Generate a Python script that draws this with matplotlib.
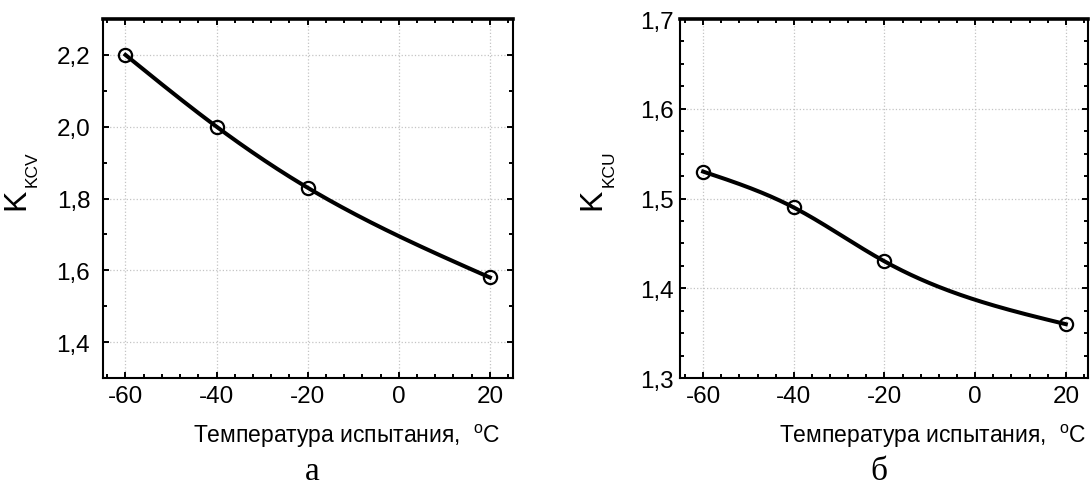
import numpy as np
import matplotlib
matplotlib.use('Agg')
import matplotlib.pyplot as plt
from matplotlib.ticker import MultipleLocator, FixedLocator, FixedFormatter

# data
temps = [-60, -40, -20, 20]
k_kcv = [2.2, 2.0, 1.83, 1.58]
k_kcu = [1.53, 1.49, 1.43, 1.36]

x_ticks = [-60, -40, -20, 0, 20]
x_ticklabels = ['-60', '-40', '-20', '0', '20']
kcv_ticks = [1.4, 1.6, 1.8, 2.0, 2.2]
kcv_ticklabels = ['1,4', '1,6', '1,8', '2,0', '2,2']
kcu_ticks = [1.3, 1.4, 1.5, 1.6, 1.7]
kcu_ticklabels = ['1,3', '1,4', '1,5', '1,6', '1,7']

xlabel = 'Температура испытания,  $^{\\mathregular{o}}$C'

plt.rcParams['font.family'] = ['Liberation Sans', 'DejaVu Sans']
plt.rcParams['mathtext.fontset'] = 'custom'
plt.rcParams['mathtext.rm'] = 'Liberation Sans'


#natural cubic spline through the measured points (only used to draw the smooth line)
def smooth(x, y, n=200):
    x = np.asarray(x, float)
    y = np.asarray(y, float)
    h = np.diff(x)
    m = len(x)
    A = np.zeros((m, m))
    b = np.zeros(m)
    A[0, 0] = 1
    A[-1, -1] = 1
    for i in range(1, m - 1):
        A[i, i - 1] = h[i - 1]
        A[i, i] = 2 * (h[i - 1] + h[i])
        A[i, i + 1] = h[i]
        b[i] = 6 * ((y[i + 1] - y[i]) / h[i] - (y[i] - y[i - 1]) / h[i - 1])
    M = np.linalg.solve(A, b)
    xs = np.linspace(x[0], x[-1], n)
    k = np.clip(np.searchsorted(x, xs) - 1, 0, m - 2)
    t1 = x[k + 1] - xs
    t2 = xs - x[k]
    hk = h[k]
    ys = (M[k] * t1 ** 3 + M[k + 1] * t2 ** 3) / (6 * hk) \
        + (y[k] / hk - M[k] * hk / 6) * t1 + (y[k + 1] / hk - M[k + 1] * hk / 6) * t2
    return xs, ys


fig = plt.figure(figsize=(10.91, 4.89), dpi=100)
ax1 = fig.add_axes([0.0941, 0.2249, 0.3758, 0.7342])
ax2 = fig.add_axes([0.6237, 0.2249, 0.3740, 0.7342])


def style(ax, yt, ytl, ylim, yminor, ypad):
    ax.set_xlim(-65, 25)
    ax.set_ylim(*ylim)
    ax.xaxis.set_major_locator(FixedLocator(x_ticks))
    ax.xaxis.set_major_formatter(FixedFormatter(x_ticklabels))
    ax.xaxis.set_minor_locator(MultipleLocator(4))
    ax.yaxis.set_major_locator(FixedLocator(yt))
    ax.yaxis.set_major_formatter(FixedFormatter(ytl))
    ax.yaxis.set_minor_locator(MultipleLocator(yminor))
    ax.grid(True, which='major', color='#c4c4c4', linestyle=':', linewidth=0.9)
    ax.tick_params(which='both', direction='in', top=True, right=True, width=1.4, colors='black')
    ax.tick_params(which='major', length=4)
    ax.tick_params(which='minor', length=3)
    ax.tick_params(axis='x', labelsize=17.5, pad=5)
    ax.tick_params(axis='y', labelsize=17.5, pad=ypad)
    for s in ['left', 'bottom', 'right']:
        ax.spines[s].set_linewidth(1.5)
    ax.spines['top'].set_linewidth(2.6)


def draw(ax, y):
    xs, ys = smooth(temps, y)
    ax.plot(xs, ys, color='black', linewidth=2.9, zorder=3)
    ax.plot(temps, y, linestyle='none', marker='o', markersize=9.5, markerfacecolor='none',
            markeredgecolor='black', markeredgewidth=1.6, zorder=4)


def ylab(ax, main, sub, xfrac):
    t = ax.text(xfrac, 0.5, main, transform=ax.transAxes, rotation=90, fontsize=23,
                ha='center', va='center')
    ax.annotate(sub, xy=(1.0, 1.0), xycoords=t, xytext=(4, 1), textcoords='offset points',
                rotation=90, rotation_mode='anchor', ha='left', va='baseline', fontsize=12.5)


style(ax1, kcv_ticks, kcv_ticklabels, (1.3, 2.3), 0.1, 9)
draw(ax1, k_kcv)
ylab(ax1, 'K', 'KCV', -0.21)
ax1.text(0.969, -0.16, xlabel, transform=ax1.transAxes, ha='right', va='center', fontsize=16.5)

style(ax2, kcu_ticks, kcu_ticklabels, (1.3, 1.7), 0.025, 5)
draw(ax2, k_kcu)
ylab(ax2, 'K', 'KCU', -0.215)
ax2.text(0.994, -0.16, xlabel, transform=ax2.transAxes, ha='right', va='center', fontsize=16.5)

fig.text(312 / 1091, 9 / 489, 'а', ha='center', va='baseline', fontsize=24, family='Liberation Serif')
fig.text(879 / 1091, 9 / 489, 'б', ha='center', va='baseline', fontsize=24, family='Liberation Serif')

fig.savefig('out.png', dpi=100)
